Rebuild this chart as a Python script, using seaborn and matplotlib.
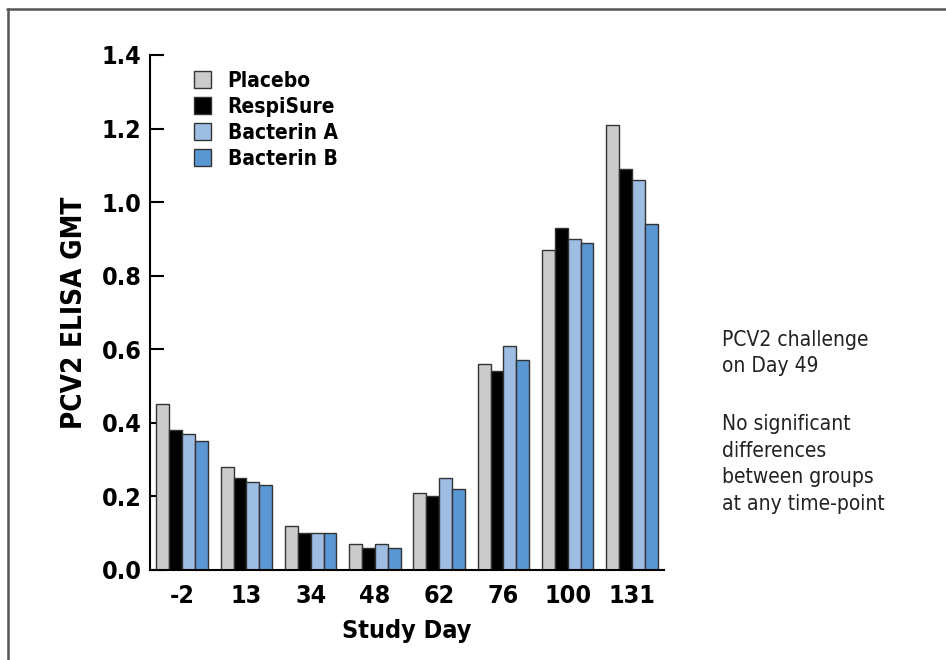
import matplotlib
matplotlib.use("Agg")
import matplotlib.pyplot as plt
import pandas as pd
import seaborn as sns
from matplotlib.lines import Line2D

# values
days = ["-2", "13", "34", "48", "62", "76", "100", "131"]
groups = ["Placebo", "RespiSure", "Bacterin A", "Bacterin B"]
placebo = [0.45, 0.28, 0.12, 0.07, 0.21, 0.56, 0.87, 1.21]
respisure = [0.38, 0.25, 0.10, 0.06, 0.20, 0.54, 0.93, 1.09]
bacterin_a = [0.37, 0.24, 0.10, 0.07, 0.25, 0.61, 0.90, 1.06]
bacterin_b = [0.35, 0.23, 0.10, 0.06, 0.22, 0.57, 0.89, 0.94]
colors = ["#CBCBCB", "#000000", "#9EBDE3", "#5A96D2"]

rows = []
for g, vals in zip(groups, [placebo, respisure, bacterin_a, bacterin_b]):
    for d, v in zip(days, vals):
        rows.append({"day": d, "group": g, "gmt": v})
df = pd.DataFrame(rows)

sns.set_style("white")
plt.rcParams["font.family"] = ["Liberation Sans Narrow", "DejaVu Sans"]
plt.rcParams["font.stretch"] = "condensed"
plt.rcParams["text.color"] = "black"
plt.rcParams["xtick.color"] = "black"
plt.rcParams["ytick.color"] = "black"
plt.rcParams["axes.labelcolor"] = "black"

fig = plt.figure(figsize=(9.46, 6.60), dpi=100)
ax = fig.add_axes([0.1586, 0.1364, 0.702 - 0.1586, 0.9167 - 0.1364])

sns.barplot(data=df, x="day", y="gmt", hue="group", order=days, hue_order=groups,
            palette=colors, width=0.8, edgecolor="#333333", linewidth=1.0,
            saturation=1, ax=ax)

ax.set_xlim(-0.5, 7.5)
ax.set_ylim(0, 1.4)
ax.set_yticks([0, 0.2, 0.4, 0.6, 0.8, 1.0, 1.2, 1.4])
ax.set_yticklabels([f"{t:.1f}" for t in ax.get_yticks()], fontsize=18, fontweight="bold")
ax.set_xticks(range(len(days)))
ax.set_xticklabels(days, fontsize=18, fontweight="bold")
ax.set_xticks([i + 0.5 for i in range(len(days))], minor=True)
ax.tick_params(axis="x", which="major", length=0, pad=10)
ax.tick_params(axis="x", which="minor", direction="in", length=12, width=1.5, color="black")
ax.tick_params(axis="y", direction="in", length=10, width=1.5, color="black", pad=6, left=True)

for s in ["top", "right"]:
    ax.spines[s].set_visible(False)
for s in ["left", "bottom"]:
    ax.spines[s].set_color("black")
    ax.spines[s].set_linewidth(1.5)

ax.set_xlabel("Study Day", fontsize=18, fontweight="bold", labelpad=8)
ax.set_ylabel("PCV2 ELISA GMT", fontsize=20, fontweight="bold", labelpad=10)

handles, labels = ax.get_legend_handles_labels()
ax.legend(handles, labels, loc="upper left", bbox_to_anchor=(0.07, 0.985), frameon=False,
          prop={"weight": "bold", "size": 15, "stretch": "condensed"}, handlelength=0.8,
          handleheight=0.9, handletextpad=0.8, labelspacing=0.28, borderaxespad=0)

fig.text(0.763, 0.500, "PCV2 challenge\non Day 49", fontsize=15, va="top",
         linespacing=1.4, color="#222222")
fig.text(0.763, 0.372, "No significant\ndifferences\nbetween groups\nat any time-point",
         fontsize=15, va="top", linespacing=1.4, color="#222222")

# outer frame, clipped at right and bottom
fig.add_artist(Line2D([0.007, 1.0], [0.986, 0.986], color="#555555", lw=1.8,
                      transform=fig.transFigure))
fig.add_artist(Line2D([0.0085, 0.0085], [0.0, 0.986], color="#555555", lw=1.8,
                      transform=fig.transFigure))

fig.savefig("out.png", dpi=100)
